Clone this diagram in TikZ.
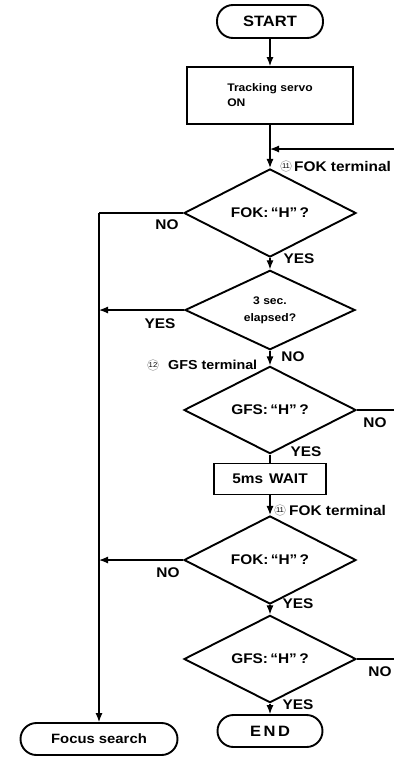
\documentclass[tikz,border=0pt]{standalone}
\usepackage{fontspec}
\setmainfont{Liberation Sans}[FakeStretch=1.1]
\usetikzlibrary{shapes.geometric,arrows.meta}
\newcommand{\fs}[1]{\bfseries\fontsize{#1}{#1}\selectfont}
\tikzset{
 shp/.style={draw, line width=1.9pt, inner sep=0pt},
 term/.style={shp, rectangle, rounded corners=16pt, minimum height=32pt, font=\fs{15}},
 boxnode/.style={shp, rectangle},
 dia/.style={shp, diamond, minimum width=172pt, minimum height=66pt, font=\fs{14}},
 conn/.style={line width=1.2pt},
 arr/.style={conn, -{Latex[length=9pt,width=7pt]}},
 lbl/.style={font=\fs{14}, inner sep=0pt},
 cnum/.style={circle, draw=gray!70, line width=0.5pt, inner sep=0.3pt, minimum size=11pt, font=\fontsize{7}{7}\selectfont}
}
\begin{document}
\begin{tikzpicture}[x=1pt,y=1pt]
\useasboundingbox (0,0) rectangle (394,-758);
% nodes
\node[term, minimum width=106pt, minimum height=33pt] (start) at (270,-21.5) {START};
\node[boxnode, minimum width=166pt, minimum height=57pt, align=left, font=\bfseries\fontsize{11}{15}\selectfont] (track) at (270,-95.5) {Tracking servo\\ON};
\node[dia] (d1) at (270,-213) {FOK:\,“H”\,?};
\node[dia, minimum width=170pt, align=center, font=\bfseries\fontsize{11}{17}\selectfont] (d2) at (270,-310) {3 sec.\\elapsed?};
\node[dia, minimum height=64pt] (d3) at (270,-410) {GFS:\,“H”\,?};
\node[boxnode, minimum width=112pt, minimum height=31pt, font=\fs{14}] (wait) at (270,-479) {5ms\hspace{6pt}WAIT};
\node[dia] (d4) at (270,-560) {FOK:\,“H”\,?};
\node[dia, minimum height=64pt] (d5) at (270,-659) {GFS:\,“H”\,?};
\node[term, minimum width=105pt] (end) at (270,-731) {E\,N\,D};
\node[term, minimum width=157pt, font=\fs{13.5}] (focus) at (99,-739) {Focus search};
% free ends
\coordinate (fokin) at (394,-149);
\coordinate (L1) at (99,-213);
\coordinate (r3) at (394,-410);
\coordinate (r5) at (394,-659);
% connectors
\draw[arr] (start) -- (track);
\draw[arr] (track) -- (d1);
\draw[arr] (fokin) -- (track.south |- fokin);
\draw[arr] (d1) -- (d2);
\draw[conn] (d1.west) -- (L1);
\draw[arr] (L1) -- (focus);
\draw[arr] (d2.west) -- (d2.west -| L1);
\draw[arr] (d2) -- (d3);
\draw[conn] (d3.east) -- (r3);
\draw[conn] (d3) -- (wait);
\draw[arr] (wait) -- (d4);
\draw[arr] (d4.west) -- (d4.west -| L1);
\draw[arr] (d4) -- (d5);
\draw[conn] (d5.east) -- (r5);
\draw[arr] (d5) -- (end);
% labels
\node[lbl] (y1) at (299,-259) {YES};
\node[lbl] (n1) at (167,-225) {NO};
\node[lbl] (y2) at (160,-324) {YES};
\node[lbl] (n2) at (293,-357) {NO};
\node[cnum] (c12) at (153,-365) {12};
\node[lbl, font=\fs{13}, anchor=west] (g12) at (168,-365) {GFS terminal};
\node[lbl] (n3) at (375,-423) {NO};
\node[lbl] (y3) at (306,-452) {YES};
\node[cnum] (c11a) at (286,-166) {11};
\node[lbl, anchor=west] (f11a) at (294,-166) {FOK terminal};
\node[cnum] (c11b) at (280,-510) {11};
\node[lbl, anchor=west] (f11b) at (289,-510) {FOK terminal};
\node[lbl] (n4) at (168,-573) {NO};
\node[lbl] (y4) at (298,-604) {YES};
\node[lbl] (n5) at (380,-672) {NO};
\node[lbl] (y5) at (298,-705) {YES};
\end{tikzpicture}
\end{document}
